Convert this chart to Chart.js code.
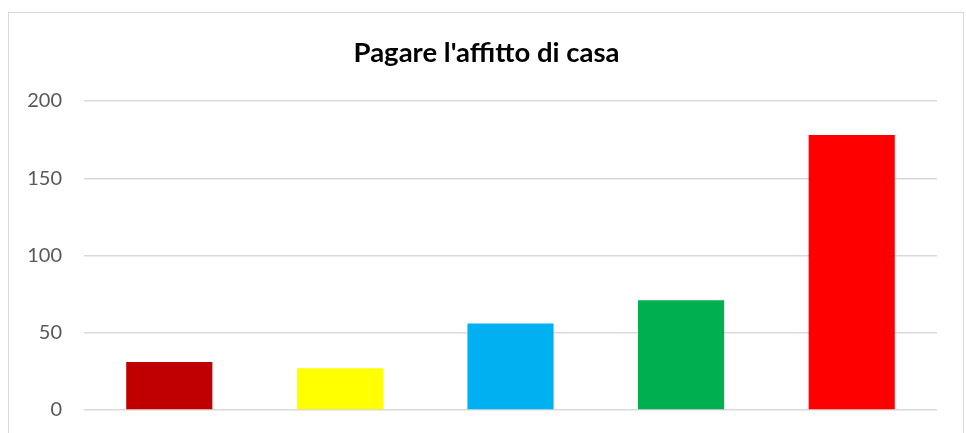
<!DOCTYPE html>
<html>
<head>
<meta charset="utf-8">
<script src="https://cdn.jsdelivr.net/npm/chart.js@4"></script>
<style>
  html, body { margin: 0; padding: 0; background: #fff; overflow: hidden; }
  #frame { position: absolute; left: 8px; top: 12px; width: 956px; height: 500px; border: 1px solid #d9d9d9; box-sizing: border-box; }
  #wrap { position: absolute; left: 0; top: 0; width: 966px; height: 444px; }
</style>
</head>
<body>
<div id="frame"></div>
<div id="wrap"><canvas id="c" width="966" height="444"></canvas></div>
<script>
const categories = ["A", "B", "C", "D", "E"];
const values = [31, 27, 56, 71, 178];
const barColors = ["#C00000", "#FFFF00", "#00B0F0", "#00B050", "#FF0000"];
const yTicks = [0, 50, 100, 150, 200];
const titleText = "Pagare l'affitto di casa";

new Chart(document.getElementById('c'), {
  type: 'bar',
  data: {
    labels: categories,
    datasets: [{
      data: values,
      backgroundColor: barColors,
      borderWidth: 0,
      barPercentage: 0.505,
      categoryPercentage: 1.0
    }]
  },
  options: {
    responsive: false,
    animation: false,
    devicePixelRatio: 1,
    layout: { padding: { left: 7, right: 0, top: 0, bottom: 13 } },
    plugins: {
      legend: { display: false },
      tooltip: { enabled: false },
      title: {
        display: true,
        text: titleText,
        color: '#000',
        font: { family: 'Lato', size: 27.5, weight: 'bold', lineHeight: 1.2 },
        padding: { top: 36.5, bottom: 31.5 }
      }
    },
    scales: {
      x: { display: false },
      y: {
        position: 'left',
        min: 0, max: 200,
        afterFit: (s) => { s.width = 77; },
        afterBuildTicks: (s) => { s.ticks = yTicks.map(v => ({ value: v })); },
        border: { display: false },
        grid: { color: '#d9d9d9', lineWidth: 1.5, drawTicks: false },
        ticks: { color: '#595959', padding: 22, font: { family: 'Lato', size: 20 } }
      },
      yRight: {
        position: 'right',
        min: 0, max: 200,
        afterFit: (s) => { s.width = 29; },
        border: { display: false },
        grid: { display: false, drawTicks: false },
        ticks: { display: false }
      }
    }
  }
});
</script>
</body>
</html>
